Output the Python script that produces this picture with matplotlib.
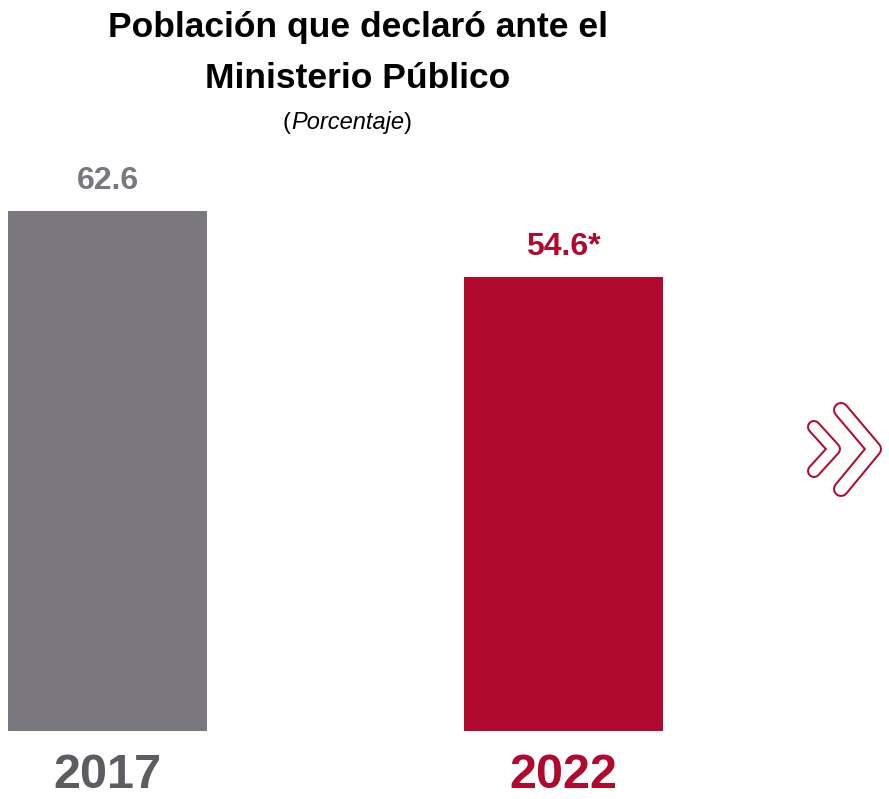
import matplotlib
matplotlib.use("Agg")
import matplotlib.pyplot as plt

plt.rcParams['font.family'] = ['Liberation Sans', 'DejaVu Sans']

years = ["2017", "2022"]
values = [62.6, 54.6]
value_labels = ["62.6", "54.6*"]
bar_colors = ["#7A777F", "#B0092E"]
year_colors = ["#5E5B61", "#B0092E"]

W, H = 889, 799
fig = plt.figure(figsize=(W / 100, H / 100), dpi=100)

# main bar axes, placed so the bars land where the reference has them
base_px = 731
px_per_unit = 8.31
ymax = 70
ax = fig.add_axes([0, (H - base_px) / H, 1, ymax * px_per_unit / H])
x = [0, 1]
bar_w = 199 / 456
ax.bar(x, values, width=bar_w, color=bar_colors)
ax.set_xlim(-107.5 / 456, (W - 107.5) / 456)
ax.set_ylim(0, ymax)
for sp in ax.spines.values():
    sp.set_visible(False)
ax.set_yticks([])
ax.set_xticks(x)
ax.set_xticklabels(years, fontsize=35, fontweight='bold')
ax.tick_params(axis='x', length=0, pad=16)
for lbl, c in zip(ax.get_xticklabels(), year_colors):
    lbl.set_color(c)

for xi, v, txt, c in zip(x, values, value_labels, bar_colors):
    ax.annotate(txt, (xi, v), xytext=(0, 11), textcoords='offset points',
                ha='center', va='bottom', fontsize=23, fontweight='bold', color=c)

# title
fig.text(358 / W, 1 - 27 / H, "Población que declaró ante el", ha='center', va='center',
         fontsize=25.5, fontweight='bold', color='black')
fig.text(358 / W, 1 - 78 / H, "Ministerio Público", ha='center', va='center',
         fontsize=25.5, fontweight='bold', color='black')

# subtitle: italic word inside upright parentheses
sub_y = 1 - 123 / H
t1 = fig.text(283 / W, sub_y, "(", ha='left', va='center', fontsize=17)
fig.canvas.draw()
r = fig.canvas.get_renderer()
bb = t1.get_window_extent(r)
t2 = fig.text(bb.x1 / W, sub_y, "Porcentaje", ha='left', va='center',
              fontsize=17, style='italic')
bb2 = t2.get_window_extent(r)
fig.text(bb2.x1 / W, sub_y, ")", ha='left', va='center', fontsize=17)

# double chevron icon
ov = fig.add_axes([0, 0, 1, 1])
ov.set_xlim(0, W)
ov.set_ylim(H, 0)
ov.axis('off')
chevrons = [
    ([814, 834, 814], [427, 449, 471], 14),
    ([841, 874, 841], [410, 449, 489], 16),
]
for cx, cy, wpx in chevrons:
    ov.plot(cx, cy, color="#B0092E", lw=wpx * 0.72, solid_capstyle='round', solid_joinstyle='round')
    ov.plot(cx, cy, color="white", lw=(wpx - 4) * 0.72, solid_capstyle='round', solid_joinstyle='round')

fig.savefig("out.png", dpi=100)
